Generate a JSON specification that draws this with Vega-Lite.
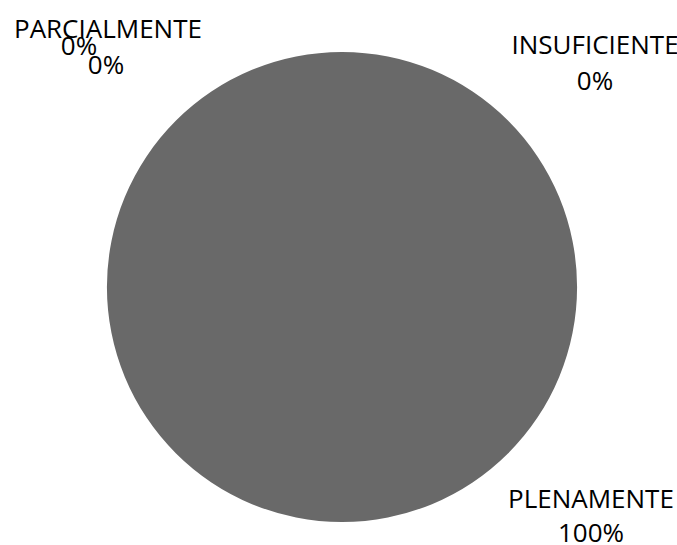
{
  "$schema": "https://vega.github.io/schema/vega-lite/v6.json",
  "width": 670,
  "height": 516,
  "autosize": {"type": "none"},
  "padding": {"left": 7, "top": 29, "right": 0, "bottom": 0},
  "background": "white",
  "config": {"view": {"stroke": null}, "text": {"font": "Open Sans", "fontSize": 26, "color": "#000000"}},
  "data": {"values": [
    {"categoria": "PLENAMENTE", "valor": 100},
    {"categoria": "PARCIALMENTE", "valor": 0},
    {"categoria": "", "valor": 0},
    {"categoria": "INSUFICIENTE", "valor": 0}
  ]},
  "transform": [
    {"calculate": "format(datum.valor / 100, '.0%')", "as": "pct"},
    {"calculate": "datum.categoria + '\\n' + datum.pct", "as": "etiqueta"}
  ],
  "layer": [
    {
      "mark": {"type": "arc", "outerRadius": 235, "stroke": null},
      "encoding": {
        "theta": {"field": "valor", "type": "quantitative", "stack": true},
        "order": {"field": "valor", "sort": "descending"},
        "color": {"value": "#696969"}
      }
    },
    {
      "transform": [{"filter": "datum.categoria == 'PLENAMENTE'"}],
      "mark": {"type": "text", "radius": 327.7, "theta": 2.2787, "lineBreak": "\n", "lineHeight": 34, "baseline": "middle", "align": "center"},
      "encoding": {"text": {"field": "etiqueta"}}
    },
    {
      "transform": [{"filter": "datum.categoria == 'INSUFICIENTE'"}],
      "mark": {"type": "text", "radius": 349.4, "theta": 0.8097, "lineBreak": "\n", "lineHeight": 36, "baseline": "middle", "align": "center"},
      "encoding": {"text": {"field": "etiqueta"}}
    },
    {
      "transform": [{"filter": "datum.categoria == 'PARCIALMENTE'"}],
      "mark": {"type": "text", "radius": 347.9, "theta": -0.7378, "baseline": "middle", "align": "center"},
      "encoding": {"text": {"field": "categoria"}}
    },
    {
      "transform": [{"filter": "datum.categoria == 'PARCIALMENTE'"}],
      "mark": {"type": "text", "radius": 356.1, "theta": -0.8311, "baseline": "middle", "align": "center"},
      "encoding": {"text": {"field": "pct"}}
    },
    {
      "transform": [{"filter": "datum.categoria == ''"}],
      "mark": {"type": "text", "radius": 323.3, "theta": -0.8182, "baseline": "middle", "align": "center"},
      "encoding": {"text": {"field": "pct"}}
    }
  ]
}
